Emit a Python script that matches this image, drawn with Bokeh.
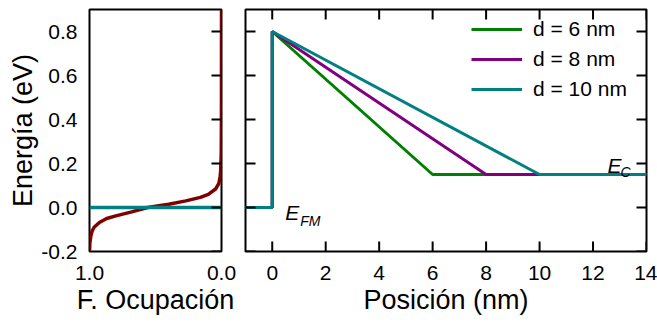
from bokeh.plotting import figure
from bokeh.layouts import row
from bokeh.models import (Range1d, FixedTicker, PrintfTickFormatter,
                          Legend, LegendItem, Label, Arrow, ColumnDataSource)
from bokeh.embed import file_html
from bokeh.resources import INLINE

# ---------------- data ----------------
fermi_energy = [-0.20, -0.16, -0.13, -0.107, -0.09, -0.068, -0.05, -0.038, -0.02,
                0.0, 0.015, 0.03, 0.046, 0.06, 0.084, 0.11, 0.14, 0.17, 0.25, 0.40, 0.90]
fermi_occupation = [1.0, 0.997, 0.99, 0.98, 0.965, 0.925, 0.87, 0.80, 0.68,
                    0.56, 0.40, 0.27, 0.16, 0.10, 0.045, 0.02, 0.01, 0.006, 0.002, 0.0005, 0.0]
occupation_span = [1.0, 0.0]
fermi_level = 0.0
barrier_peak = 0.8
conduction_edge = 0.15
distances = [6, 8, 10]
series_labels = ["d = 6 nm", "d = 8 nm", "d = 10 nm"]
pos_start, pos_end = -1, 14
energy_start, energy_end = -0.2, 0.9
y_ticks = [-0.2, 0.0, 0.2, 0.4, 0.6, 0.8]
x_ticks = [0, 2, 4, 6, 8, 10, 12, 14]
occ_ticks = [1.0, 0.0]

# ---------------- style / layout ----------------
FONT = "Liberation Sans"
TICK_FS = "21px"
LABEL_FS = "27px"
colors = ["#008000", "#800080", "#008080"]
FERMI_COLOR = "#800000"
TEAL = "#008080"
HEIGHT = 325
BORDER_TOP, BORDER_BOTTOM = 9, 74
LEFT_W, LEFT_BL, LEFT_BR = 240, 89, 19
RIGHT_W, RIGHT_BL, RIGHT_BR = 417, 5, 11
TICK_PX = 10
FRAME_H = HEIGHT - BORDER_TOP - BORDER_BOTTOM
LEFT_FRAME_W = LEFT_W - LEFT_BL - LEFT_BR
RIGHT_FRAME_W = RIGHT_W - RIGHT_BL - RIGHT_BR


def style_fig(p):
    p.xgrid.visible = False
    p.ygrid.visible = False
    p.outline_line_color = "black"
    p.outline_line_width = 2
    p.outline_line_alpha = 1.0
    p.background_fill_color = "white"
    p.border_fill_color = "white"


def style_axis(ax, ticks, fmt, standoff):
    ax.ticker = FixedTicker(ticks=ticks)
    ax.formatter = PrintfTickFormatter(format=fmt)
    ax.major_tick_in = 0
    ax.major_tick_out = 0
    ax.major_tick_line_color = None
    ax.minor_tick_line_color = None
    ax.axis_line_color = None
    ax.major_label_standoff = standoff
    ax.major_label_text_font = FONT
    ax.major_label_text_font_size = TICK_FS
    ax.major_label_text_color = "black"
    ax.axis_label_text_font = FONT
    ax.axis_label_text_font_size = LABEL_FS
    ax.axis_label_text_font_style = "normal"
    ax.axis_label_text_color = "black"


def tick_marks(p, x0, y0, x1, y1):
    """Inward tick marks drawn as head-less Arrow annotations (data units)."""
    src = ColumnDataSource(dict(x0=list(x0), y0=list(y0), x1=list(x1), y1=list(y1)))
    p.add_layout(Arrow(x_start="x0", y_start="y0", x_end="x1", y_end="y1", source=src,
                       start=None, end=None, line_color="black", line_width=2,
                       level="overlay"))


# tick lengths (10 px) expressed in each panel's data units
dy_tick = (energy_end - energy_start) * TICK_PX / FRAME_H
dx_tick_right = (pos_end - pos_start) * TICK_PX / RIGHT_FRAME_W
dx_tick_left = abs(occupation_span[0] - occupation_span[1]) * TICK_PX / LEFT_FRAME_W

# ---------------- left panel: occupation ----------------
left = figure(width=LEFT_W, height=HEIGHT, x_range=Range1d(occupation_span[0], occupation_span[1]),
              y_range=Range1d(energy_start, energy_end),
              output_backend="svg", toolbar_location=None,
              min_border_left=LEFT_BL, min_border_right=LEFT_BR,
              min_border_top=BORDER_TOP, min_border_bottom=BORDER_BOTTOM)
style_fig(left)
style_axis(left.xaxis[0], occ_ticks, "%.1f", 14)
left.xaxis[0].axis_label = "F. Ocupación"
left.xaxis[0].axis_label_standoff = 2
style_axis(left.yaxis[0], y_ticks, "%.1f", 12)
left.yaxis[0].axis_label = "Energía (eV)"
left.yaxis[0].axis_label_standoff = 0

left.line(fermi_occupation, fermi_energy, line_color=FERMI_COLOR, line_width=3.5)
left.line(occupation_span, [fermi_level, fermi_level], line_color=TEAL, line_width=3.5)
edge = occupation_span[1]
ny_l = len(y_ticks)
tick_marks(left, [edge] * ny_l, y_ticks, [edge + dx_tick_left] * ny_l, y_ticks)

# ---------------- right panel: band diagram ----------------
right = figure(width=RIGHT_W, height=HEIGHT, x_range=Range1d(pos_start, pos_end),
               y_range=Range1d(energy_start, energy_end),
               output_backend="svg", toolbar_location=None,
               min_border_left=RIGHT_BL, min_border_right=RIGHT_BR,
               min_border_top=BORDER_TOP, min_border_bottom=BORDER_BOTTOM)
style_fig(right)
style_axis(right.xaxis[0], x_ticks, "%d", 14)
right.xaxis[0].axis_label = "Posición (nm)"
right.xaxis[0].axis_label_standoff = 2
yax = right.yaxis[0]
yax.ticker = FixedTicker(ticks=y_ticks)
yax.major_tick_in = 0
yax.major_tick_out = 0
yax.major_tick_line_color = None
yax.minor_tick_line_color = None
yax.axis_line_color = None
yax.major_label_text_color = None
yax.major_label_standoff = 0

items = []
for d, lab, c in zip(distances, series_labels, colors):
    xs = [pos_start, 0, 0, d, pos_end]
    ys = [fermi_level, fermi_level, barrier_peak, conduction_edge, conduction_edge]
    r = right.line(xs, ys, line_color=c, line_width=3)
    items.append(LegendItem(label=lab, renderers=[r]))

nx, ny = len(x_ticks), len(y_ticks)
tick_marks(right, x_ticks, [energy_start] * nx, x_ticks, [energy_start + dy_tick] * nx)
tick_marks(right, x_ticks, [energy_end] * nx, x_ticks, [energy_end - dy_tick] * nx)
tick_marks(right, [pos_start] * ny, y_ticks, [pos_start + dx_tick_right] * ny, y_ticks)
tick_marks(right, [pos_end] * ny, y_ticks, [pos_end - dx_tick_right] * ny, y_ticks)

legend = Legend(items=items, location=(226, 150), border_line_color=None,
                background_fill_alpha=0, label_text_font=FONT, label_text_font_size=TICK_FS,
                label_text_color="black",
                glyph_width=51, glyph_height=22, label_height=22, label_standoff=11,
                spacing=6, padding=0, margin=0)
right.add_layout(legend, "center")

# energy level labels
lab_kw = dict(text_font=FONT, text_font_style="italic", text_color="black",
              text_baseline="alphabetic", text_align="left")
right.add_layout(Label(x=0.49, y=-0.024, text="E", text_font_size="21px", **lab_kw))
right.add_layout(Label(x=1.05, y=-0.061, text="FM", text_font_size="14px", **lab_kw))
right.add_layout(Label(x=12.54, y=0.19, text="E", text_font_size="21px", **lab_kw))
right.add_layout(Label(x=13.03, y=0.16, text="C", text_font_size="14px", **lab_kw))

layout = row(left, right)
open("out.html", "w").write(file_html(layout, INLINE))
